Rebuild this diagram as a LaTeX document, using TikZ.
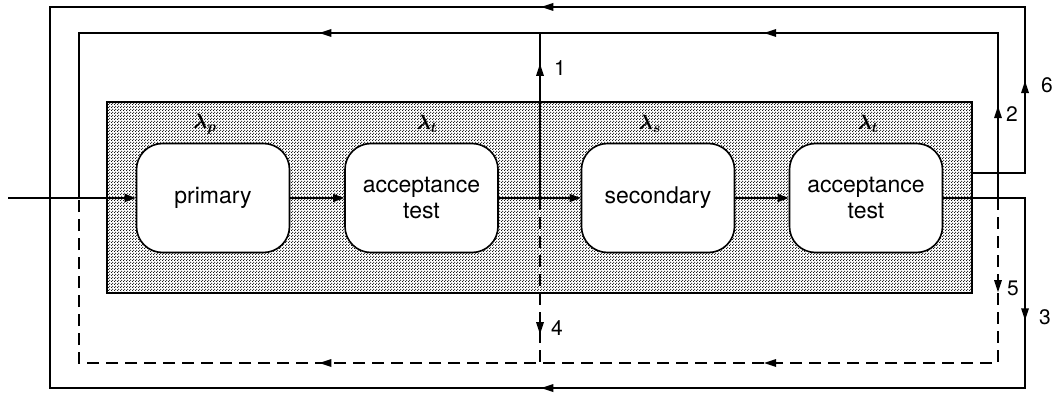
\documentclass[tikz,border=0pt]{standalone}
\usepackage{fontspec}
\usepackage{bm}
\setmainfont{TeX Gyre Heros}
\usetikzlibrary{arrows.meta,patterns.meta,decorations.markings}
\tikzdeclarepattern{name=stagedots, type=uncolored,
  bottom left={(0pt,0pt)}, top right={(3pt,3pt)}, tile size={(3pt,3pt)},
  code={\fill (0.75pt,0.75pt) circle (0.8pt); \fill (2.25pt,2.25pt) circle (0.8pt);}}
\begin{document}
\begin{tikzpicture}[x=1pt,y=-1pt,
  ln/.style={line width=1.2pt},
  dsh/.style={line width=1.2pt, dash pattern=on 12pt off 7pt},
  box/.style={draw, line width=1.6pt, fill=white, rounded corners=26pt,
    minimum width=153pt, minimum height=109pt, align=center,
    font=\fontsize{23}{26}\selectfont, inner sep=0pt},
  tipend/.style={-{Triangle[length=11pt,width=8pt]}},
  mk/.style={decoration={markings, mark=at position #1 with
    {\fill (6pt,0pt) -- (-6pt,4pt) -- (-6pt,-4pt) -- cycle;}}, decorate},
  num/.style={font=\fontsize{21}{21}\selectfont, inner sep=0pt},
  lam/.style={font=\fontsize{22}{22}\selectfont, inner sep=0pt}]
\useasboundingbox (0,0) rectangle (1058,393);

% shaded stage
\node[draw, line width=1.6pt, pattern=stagedots, minimum width=865pt,
  minimum height=191pt, inner sep=0pt] (stage) at (539.5,197.5) {};

% boxes
\node[box] (prim) at (213,198) {primary};
\node[box] (acc1) at (421.5,198) {acceptance\\test};
\node[box] (sec) at (658,198) {secondary};
\node[box] (acc2) at (866,198) {acceptance\\test};

% lambda labels
\node[lam] (lp) at (205,124) {$\bm{\lambda_p}$};
\node[lam] (lt1) at (427,124) {$\bm{\lambda_t}$};
\node[lam] (ls) at (650,124) {$\bm{\lambda_s}$};
\node[lam] (lt2) at (868,124) {$\bm{\lambda_t}$};

% coordinates
\coordinate (in) at (8,198);
\coordinate (o6a) at (972,173);
\coordinate (o6b) at (1025,173);
\coordinate (o6c) at (1025,7);
\coordinate (olt) at (50,7);
\coordinate (olb) at (50,388);
\coordinate (o3b) at (1025,198);
\coordinate (o3c) at (1025,388);
\coordinate (j2) at (998,198);
\coordinate (i2t) at (998,33);
\coordinate (ilt) at (79,33);
\coordinate (ilm) at (79,198);
\coordinate (i5b) at (998,363);
\coordinate (ilb) at (79,363);
\coordinate (cm) at (540,198);
\coordinate (ct) at (540,33);
\coordinate (cb) at (540,363);

% main flow
\draw[ln,tipend] (in) -- (prim.west);
\draw[ln,tipend] (prim) -- (acc1);
\draw[ln,tipend] (acc1) -- (sec);
\draw[ln,tipend] (sec) -- (acc2);

% outer loops (6 and 3)
\draw[ln] (o6a) -- (o6b) -- (o6c) -- (olt) -- (olb) -- (o3c) -- (o3b) -- (acc2.east);
\path[mk=0.518] (o6b) -- (o6c);
\path[mk=0.490] (o6c) -- (olt);
\path[mk=0.612] (o3b) -- (o3c);
\path[mk=0.490] (o3c) -- (olb);

% inner solid loop (2)
\draw[ln] (j2) -- (i2t) -- (ilt) -- (ilm);
\path[mk=0.521] (j2) -- (i2t);
\path[mk=0.248] (i2t) -- (ilt);
\path[mk=0.732] (i2t) -- (ilt);

% inner dashed loop (5)
\draw[dsh] (j2) -- (i5b) -- (ilb) -- (ilm);
\path[mk=0.534] (j2) -- (i5b);
\path[mk=0.248] (i5b) -- (ilb);
\path[mk=0.732] (i5b) -- (ilb);

% centre branches (1 and 4)
\draw[ln] (cm) -- (ct);
\path[mk=0.776] (cm) -- (ct);
\draw[dsh] (cm) -- (cb);
\path[mk=0.788] (cm) -- (cb);

% numbers
\node[num] (n1) at (560,68) {1};
\node[num] (n2) at (1012,114) {2};
\node[num] (n3) at (1045,317) {3};
\node[num] (n4) at (557,328) {4};
\node[num] (n5) at (1013,288) {5};
\node[num] (n6) at (1047,85) {6};
\end{tikzpicture}
\end{document}
